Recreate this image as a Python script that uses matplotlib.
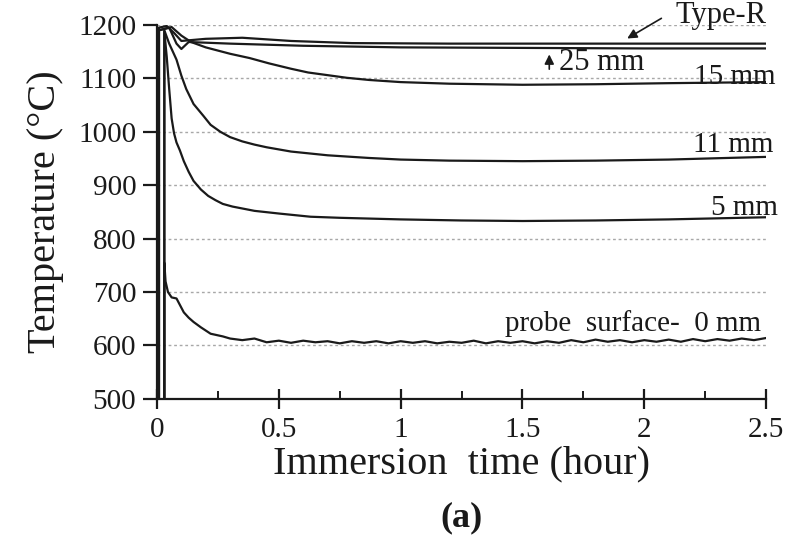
import matplotlib.pyplot as plt
from matplotlib.ticker import MultipleLocator

# Temperature vs immersion time
type_r_t = [0.008, 0.008, 0.04, 0.07, 0.1, 0.15, 0.2, 0.35, 0.55, 0.8, 1.2,
            1.8, 2.5]
type_r_T = [25, 1195, 1198, 1185, 1170, 1172, 1174, 1176, 1170, 1166, 1165,
            1165, 1165]

mm25_t = [0.008, 0.008, 0.05, 0.08, 0.1, 0.13, 0.3, 0.6, 1.0, 1.5, 2.0, 2.5]
mm25_T = [25, 1190, 1195, 1165, 1155, 1168, 1165, 1161, 1158, 1157, 1156, 1156]

mm15_t = [0.008, 0.008, 0.06, 0.1, 0.14, 0.2, 0.25, 0.3, 0.38, 0.46, 0.55,
          0.62, 0.7, 0.78, 0.87, 1.0, 1.2, 1.5, 1.8, 2.1, 2.5]
mm15_T = [25, 1190, 1196, 1180, 1168, 1158, 1152, 1146, 1138, 1128, 1118,
          1111, 1106, 1101, 1097, 1093, 1090, 1088, 1089, 1091, 1093]

mm11_t = [0.03, 0.03, 0.05, 0.08, 0.1, 0.12, 0.15, 0.19, 0.22, 0.26, 0.3,
          0.35, 0.4, 0.45, 0.55, 0.7, 0.87, 1.0, 1.2, 1.5, 1.8, 2.1, 2.5]
mm11_T = [25, 1190, 1165, 1135, 1105, 1080, 1052, 1030, 1013, 1000, 990,
          982, 976, 971, 963, 956, 951, 948, 946, 945, 946, 948, 953]

mm5_t = [0.03, 0.03, 0.04, 0.05, 0.06, 0.07, 0.08, 0.094, 0.11, 0.13, 0.15,
         0.18, 0.21, 0.24, 0.27, 0.31, 0.4, 0.5, 0.63, 0.75, 1.0, 1.25, 1.5,
         1.8, 2.1, 2.5]
mm5_T = [25, 1188, 1140, 1080, 1025, 997, 980, 965, 945, 925, 908, 892, 880,
         872, 865, 860, 852, 847, 841, 839, 836, 834, 833, 834, 836, 840]

mm0_t = [0.03, 0.03, 0.035, 0.045, 0.06, 0.08, 0.095, 0.11, 0.13, 0.15, 0.18,
         0.22, 0.27, 0.3, 0.35, 0.4, 0.45, 0.5, 0.55, 0.6, 0.65, 0.7, 0.75,
         0.8, 0.85, 0.9, 0.95, 1.0, 1.05, 1.1, 1.15, 1.2, 1.25, 1.3, 1.35,
         1.4, 1.45, 1.5, 1.55, 1.6, 1.65, 1.7, 1.75, 1.8, 1.85, 1.9, 1.95,
         2.0, 2.05, 2.1, 2.15, 2.2, 2.25, 2.3, 2.35, 2.4, 2.45, 2.5]
mm0_T = [25, 755, 720, 700, 690, 688, 675, 662, 652, 644, 634,
         622, 617, 613, 610, 613, 606, 609, 605, 609, 606, 608, 604,
         608, 605, 608, 604, 608, 605, 608, 604, 607, 605, 609, 604,
         608, 605, 608, 604, 608, 605, 610, 606, 611, 607, 610, 606,
         610, 607, 611, 607, 612, 608, 612, 609, 613, 610, 614]

y_ticks = [500, 600, 700, 800, 900, 1000, 1100, 1200]
x_ticks = [0, 0.5, 1, 1.5, 2, 2.5]
x_tick_labels = ["0", "0.5", "1", "1.5", "2", "2.5"]

plt.rcParams["font.family"] = ["Liberation Serif", "DejaVu Serif"]
ink = "#1a1a1a"

fig = plt.figure(figsize=(7.89, 5.42), dpi=100)
ax = fig.add_axes([0.199, 0.264, 0.772, 0.690])

for y in y_ticks[1:]:
    ax.axhline(y, color="#a8a8a8", lw=1.0, ls=(0, (2, 2)), zorder=0)

for t, T in [(type_r_t, type_r_T), (mm25_t, mm25_T), (mm15_t, mm15_T),
             (mm11_t, mm11_T), (mm5_t, mm5_T), (mm0_t, mm0_T)]:
    ax.plot(t, T, color=ink, lw=1.6, solid_joinstyle="round")

ax.set_xlim(0, 2.5)
ax.set_ylim(500, 1200)
ax.set_xticks(x_ticks)
ax.set_xticklabels(x_tick_labels)
ax.set_yticks(y_ticks)
ax.xaxis.set_minor_locator(MultipleLocator(0.25))

for side in ["top", "right"]:
    ax.spines[side].set_visible(False)
for side in ["left", "bottom"]:
    ax.spines[side].set_linewidth(1.6)
    ax.spines[side].set_color(ink)

ax.tick_params(axis="x", which="major", direction="inout", length=14,
               width=1.6, labelsize=21, pad=6, colors=ink)
ax.tick_params(axis="x", which="minor", direction="in", length=6,
               width=1.4, colors=ink)
ax.tick_params(axis="y", direction="out", length=10, width=1.6,
               labelsize=21, pad=5, colors=ink)

ax.set_xlabel("Immersion  time (hour)", fontsize=29, color=ink, labelpad=2)
ax.set_ylabel("Temperature (\u00b0C)", fontsize=29, color=ink, labelpad=10)
fig.text(0.585, 0.045, "(a)", fontsize=26, fontweight="bold", ha="center",
         va="center", color=ink)

# curve labels
ax.text(2.5, 1218, "Type-R", fontsize=22, ha="right", va="center", color=ink)
ax.annotate("", xy=(1.92, 1172), xytext=(2.08, 1215),
            arrowprops=dict(arrowstyle="-|>", color=ink, lw=1.2,
                            mutation_scale=14))
ax.annotate("", xy=(1.61, 1150), xytext=(1.61, 1112),
            arrowprops=dict(arrowstyle="-|>", color=ink, lw=1.2,
                            mutation_scale=14))
ax.text(1.65, 1130, "25 mm", fontsize=22, ha="left", va="center", color=ink)
ax.text(2.54, 1102, "15 mm", fontsize=21, ha="right", va="center", color=ink)
ax.text(2.53, 976, "11 mm", fontsize=21, ha="right", va="center", color=ink)
ax.text(2.55, 858, "5 mm", fontsize=21, ha="right", va="center", color=ink)
ax.text(2.48, 642, "probe  surface-  0 mm", fontsize=21, ha="right",
        va="center", color=ink)

fig.savefig("out.png", dpi=100)
